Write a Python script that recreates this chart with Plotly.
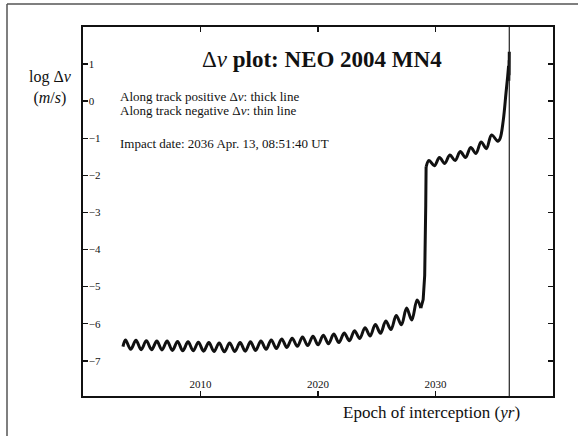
import plotly.graph_objects as go

# ---- data (year, log10 dv) ----
pre_years = [2003.40, 2003.62, 2004.06, 2004.51, 2004.95, 2005.39, 2005.84, 2006.28, 2006.72,
             2007.16, 2007.61, 2008.05, 2008.49, 2008.94, 2009.38, 2009.82, 2010.26, 2010.71,
             2011.15, 2011.59, 2012.03, 2012.48, 2012.92, 2013.37, 2013.81, 2014.25, 2014.69,
             2015.14, 2015.58, 2016.02, 2016.46, 2016.91, 2017.35, 2017.80, 2018.24, 2018.68,
             2019.12, 2019.57, 2020.01, 2020.45, 2020.89, 2021.34, 2021.78, 2022.23, 2022.67,
             2023.11, 2023.55, 2024.00, 2024.44, 2024.88, 2025.32, 2025.77, 2026.21, 2026.66,
             2027.10, 2027.54, 2027.98, 2028.43, 2028.75]
pre_logdv = [-6.62, -6.44, -6.69, -6.45, -6.70, -6.46, -6.70, -6.47, -6.71,
             -6.47, -6.72, -6.48, -6.73, -6.49, -6.73, -6.50, -6.74, -6.51,
             -6.75, -6.52, -6.76, -6.52, -6.75, -6.51, -6.74, -6.49, -6.72,
             -6.47, -6.69, -6.44, -6.67, -6.41, -6.64, -6.39, -6.61, -6.36,
             -6.59, -6.34, -6.57, -6.31, -6.54, -6.28, -6.51, -6.25, -6.46,
             -6.19, -6.40, -6.11, -6.33, -6.02, -6.26, -5.93, -6.16, -5.78,
             -6.03, -5.58, -5.90, -5.36, -5.58]

jump_years = [2028.75, 2028.95, 2029.08, 2029.14, 2029.16, 2029.15, 2029.17, 2029.20]
jump_logdv = [-5.58, -5.35, -4.70, -3.90, -3.20, -3.70, -2.80, -1.77]

post_years = [2029.20, 2029.45, 2029.90, 2030.34, 2030.78, 2031.22, 2031.67, 2032.11,
              2032.55, 2033.00, 2033.44, 2033.88, 2034.33, 2034.77, 2035.30, 2035.50,
              2035.77, 2036.00, 2036.14, 2036.22]
post_logdv = [-1.77, -1.60, -1.74, -1.52, -1.68, -1.45, -1.60, -1.36,
              -1.52, -1.25, -1.41, -1.10, -1.28, -0.91, -1.08, -1.00,
              -0.51, 0.22, 0.66, 0.95]

spike_years = [2036.22, 2036.24, 2036.26, 2036.27, 2036.28]
spike_logdv = [0.95, 0.55, 1.10, 0.70, 1.33]

impact_year = 2036.28
x_ticks = [2010, 2020, 2030]
y_ticks = [-7, -6, -5, -4, -3, -2, -1, 0, 1]

FONT = "Liberation Serif"
INK = "#111111"

fig = go.Figure()
for xs, ys, shape in [(pre_years, pre_logdv, "spline"),
                      (jump_years, jump_logdv, "linear"),
                      (post_years, post_logdv, "spline"),
                      (spike_years, spike_logdv, "linear")]:
    fig.add_trace(go.Scatter(x=xs, y=ys, mode="lines",
                             line=dict(color=INK, width=3, shape=shape),
                             hoverinfo="skip", showlegend=False))

fig.add_shape(type="line", xref="x", yref="paper", x0=impact_year, x1=impact_year,
              y0=0, y1=1, line=dict(color="#222222", width=1.2))

# outer frame (left and top edges visible)
fig.add_shape(type="line", xref="paper", yref="paper", x0=-0.1617, x1=-0.1617,
              y0=-0.2, y1=1.0623, line=dict(color="#555555", width=1.5))
fig.add_shape(type="line", xref="paper", yref="paper", x0=-0.1617, x1=1.2,
              y0=1.0623, y1=1.0623, line=dict(color="#555555", width=1.5))

fig.update_layout(
    width=578, height=436,
    margin=dict(l=83, r=25, t=27, b=40),
    paper_bgcolor="white", plot_bgcolor="white",
    font=dict(family=FONT, color=INK),
    showlegend=False,
    xaxis=dict(range=[2000, 2040], tickvals=x_ticks, ticks="inside", ticklen=5,
               tickwidth=1.5, tickcolor=INK, ticklabelposition="inside",
               tickfont=dict(size=11, family=FONT, color=INK),
               showline=True, linecolor=INK, linewidth=2, mirror="ticks",
               showgrid=False, zeroline=False),
    yaxis=dict(range=[-7.95, 2.0], tickvals=y_ticks, ticks="inside", ticklen=5,
               tickwidth=1.5, tickcolor=INK, ticklabelposition="inside",
               tickfont=dict(size=11, family=FONT, color=INK),
               showline=True, linecolor=INK, linewidth=2, mirror="ticks",
               showgrid=False, zeroline=False),
)

ann = [
    dict(x=0.508, y=0.9106, text="Δ<i>v</i> <b>plot: NEO 2004 MN4</b>",
         font=dict(size=23)),
    dict(x=0.0745, y=0.813, xanchor="left",
         text="Along track positive Δ<i>v</i>: thick line", font=dict(size=13)),
    dict(x=0.0745, y=0.7724, xanchor="left",
         text="Along track negative Δ<i>v</i>: thin line", font=dict(size=13)),
    dict(x=0.0745, y=0.6856, xanchor="left",
         text="Impact date: 2036 Apr. 13, 08:51:40 UT", font=dict(size=13)),
    dict(x=-0.0702, y=0.837, text="log Δ<i>v</i><br>(<i>m</i>/<i>s</i>)",
         font=dict(size=16)),
    dict(x=0.935, y=-0.0434, xanchor="right",
         text="Epoch of interception (<i>yr</i>)", font=dict(size=17)),
]
for a in ann:
    a.setdefault("xanchor", "center")
    fig.add_annotation(xref="paper", yref="paper", showarrow=False, yanchor="middle",
                       font_family=FONT, font_color=INK, **a)

fig.write_html("out.html",
               config={"displayModeBar": False, "staticPlot": True},
               post_script="document.body.style.margin='0';document.body.style.overflow='hidden';")
